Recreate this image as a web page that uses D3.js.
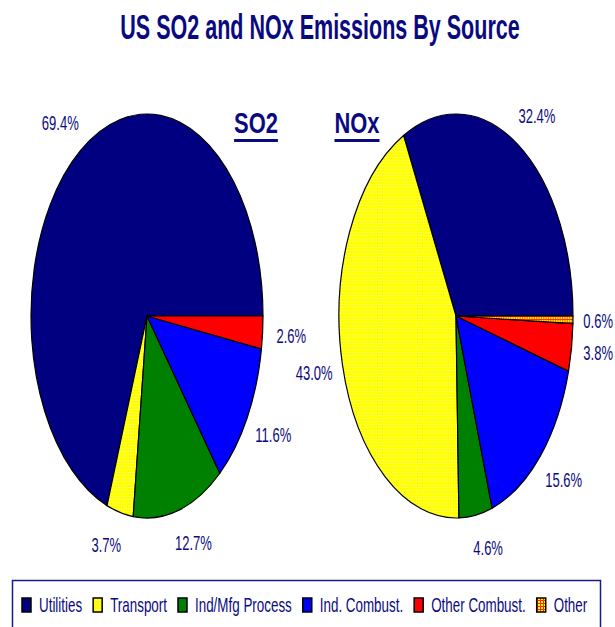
<!DOCTYPE html>
<html>
<head>
<meta charset="utf-8">
<script src="https://cdn.jsdelivr.net/npm/d3@7"></script>
<style>
  html, body { margin: 0; padding: 0; background: #fff; }
  svg { display: block; font-family: "Liberation Sans", Arial, sans-serif; }
</style>
</head>
<body>
<svg id="chart" width="615" height="627"></svg>
<script>
// Emission shares by source (percent)
const categories = ["Utilities", "Transport", "Ind/Mfg Process", "Ind. Combust.", "Other Combust.", "Other"];
const so2Values = [69.4, 3.7, 12.7, 11.6, 2.6, 0];
const noxValues = [32.4, 43.0, 4.6, 15.6, 3.8, 0.6];
const pieNames = ["SO2", "NOx"];
const chartTitle = "US SO2 and NOx Emissions By Source";

const W = 615;
const ink = "#0a0a80";
const fills = ["#000080", "url(#patTransport)", "#008000", "#0000ff", "#ff0000", "url(#patOther)"];

const svg = d3.select("#chart");
const defs = svg.append("defs");

// Dotted yellow fill for Transport
const pt = defs.append("pattern").attr("id", "patTransport")
  .attr("patternUnits", "userSpaceOnUse").attr("width", 3).attr("height", 3);
pt.append("rect").attr("width", 3).attr("height", 3).attr("fill", "#ffff00");
pt.append("rect").attr("width", 1).attr("height", 1).attr("fill", "#ffffc8");

// Yellow/red grid fill for Other
const po = defs.append("pattern").attr("id", "patOther")
  .attr("patternUnits", "userSpaceOnUse").attr("width", 3).attr("height", 3);
po.append("rect").attr("width", 3).attr("height", 3).attr("fill", "#ffff00");
po.append("rect").attr("width", 3).attr("height", 1).attr("fill", "#ff3000");
po.append("rect").attr("width", 1).attr("height", 3).attr("fill", "#ff3000");

// Helper: condensed text drawn at (x, y)
function ctext(parent, x, y, str, size, sx, opts = {}) {
  return parent.append("text")
    .attr("transform", `translate(${x},${y}) scale(${sx},1)`)
    .attr("text-anchor", opts.anchor || "middle")
    .attr("dy", opts.dy || null)
    .attr("font-size", size)
    .attr("font-weight", opts.bold ? "bold" : "normal")
    .attr("fill", ink)
    .text(str);
}

// Title
ctext(svg, 320, 39, chartTitle, 35, 0.615, { bold: true });

// Pie layout: counter-clockwise from 3 o'clock
const pie = d3.pie().sort(null).value(d => d)
  .startAngle(Math.PI / 2).endAngle(Math.PI / 2 - 2 * Math.PI);

const pies = [
  { name: pieNames[0], values: so2Values, cx: 147, cy: 316, rx: 116, ry: 202, hx: 256 },
  { name: pieNames[1], values: noxValues, cx: 456, cy: 316, rx: 117, ry: 202, hx: 357 }
];

const labelScale = 0.62;

pies.forEach(p => {
  const arcs = pie(p.values).map((a, i) => ({ ...a, cat: i })).filter(a => a.value > 0);
  const arc = d3.arc().innerRadius(0).outerRadius(p.ry);

  const g = svg.append("g")
    .attr("transform", `translate(${p.cx},${p.cy}) scale(${p.rx / p.ry},1)`);
  g.selectAll("path").data(arcs).join("path")
    .attr("d", arc)
    .attr("fill", d => fills[d.cat])
    .attr("stroke", "#000")
    .attr("stroke-width", 1.2)
    .attr("stroke-linejoin", "round")
    .attr("vector-effect", "non-scaling-stroke");

  // Percentage labels outside each slice, kept inside the page
  arcs.forEach(d => {
    const mid = (d.startAngle + d.endAngle) / 2;
    const s = Math.sin(mid), c = Math.cos(mid);
    let x = p.cx + Math.sign(s) * (Math.abs(s) * p.rx * 1.17 + 9);
    const y = p.cy - c * p.ry * 1.165;
    const t = ctext(svg, x, y, d.value.toFixed(1) + "%", 21, labelScale, { dy: "0.35em" });
    const half = t.node().getComputedTextLength() * labelScale / 2;
    if (x + half > W - 2) {
      x = W - 2 - half;
      t.attr("transform", `translate(${x},${y}) scale(${labelScale},1)`);
    }
  });

  // Pie heading with underline
  const t = ctext(svg, p.hx, 133, p.name, 30, 0.73, { bold: true });
  const w = t.node().getComputedTextLength() * 0.73;
  svg.append("rect").attr("x", p.hx - w / 2).attr("y", 139)
    .attr("width", w).attr("height", 3).attr("fill", ink);
});

// Legend
svg.append("rect").attr("x", 12.5).attr("y", 580.5).attr("width", 588).attr("height", 60)
  .attr("fill", "#fff").attr("stroke", "#1a1a8c").attr("stroke-width", 1.5);

const legendScale = 0.67;
let lx = 22;
categories.forEach((name, i) => {
  svg.append("rect").attr("x", lx).attr("y", 598).attr("width", 9).attr("height", 14)
    .attr("fill", fills[i]).attr("stroke", "#000").attr("stroke-width", 1.5);
  const t = ctext(svg, lx + 17, 612, name, 20, legendScale, { anchor: "start" });
  lx += 17 + t.node().getComputedTextLength() * legendScale + 11;
});
</script>
</body>
</html>
